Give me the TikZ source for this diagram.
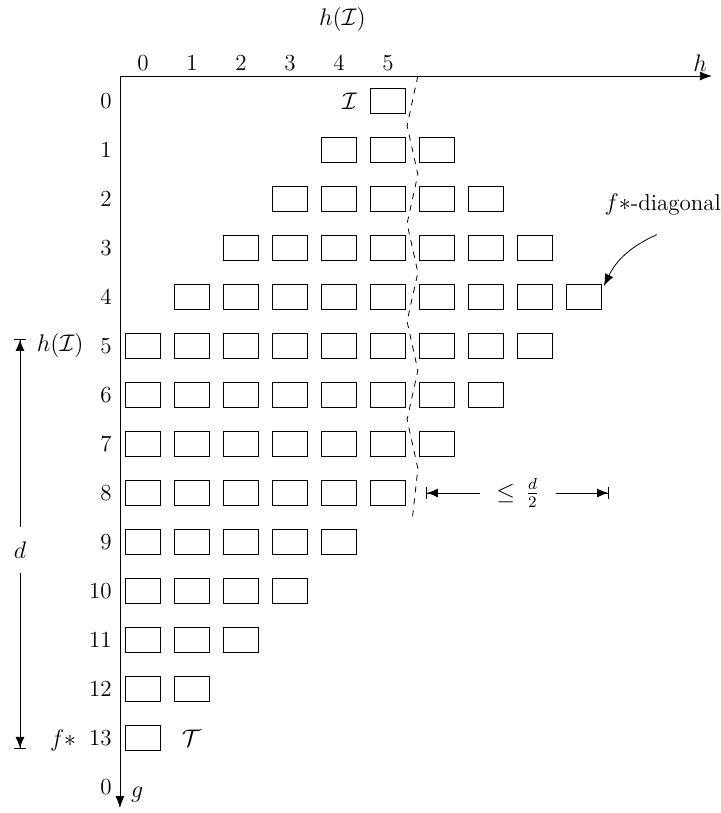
\documentclass[tikz,border=0pt]{standalone}
\usepackage{amsmath,amssymb}
\usepackage{tikz}
\usetikzlibrary{positioning, arrows.meta}
\tikzset{
  cellbox/.style   = {draw, minimum width=17.5pt, minimum height=12.5pt,
                      inner sep=0pt},
  axisarrow/.style = {-{Latex[length=6pt,width=4.5pt]}},
  dimarrow/.style  = {-{Latex[length=5.5pt,width=4.5pt,sep=0pt]Bar[width=6pt,sep=0pt]}},
  fdarrow/.style   = {-{Latex[length=6pt,width=4.5pt]}},
  rowlbl/.style    = {anchor=east, inner sep=1pt},
  collbl/.style    = {inner sep=1pt}
}

\begin{document}
\begin{tikzpicture}[x=24.5pt, y=-24.5pt, font=\fontsize{11.5}{14}\selectfont]
  \useasboundingbox (-2.918,-2.061) rectangle (11.796,14.531);

  % axes
  \coordinate (o)    at (-0.47,-0.51);
  \coordinate (hend) at (11.61,-0.51);
  \coordinate (gend) at (-0.47,14.43);
  \draw[axisarrow] (o) -- (hend);
  \draw[axisarrow] (o) -- (gend);
  \node[collbl] (hlbl) at (11.37,-0.78) {$h$};
  \node[collbl] (glbl) at (-0.12,14.16) {$g$};
  \node (htop) at (4.07,-1.67) {$h(\mathcal{I})$};

  \foreach \c in {0,...,5}
    \node[collbl] (col-\c) at (\c,-0.78) {\c};
  \foreach \r in {0,...,13}
    \node[rowlbl] (row-\r) at (-0.59,\r) {\r};
  \node[rowlbl] (row-end) at (-0.59,14) {0};

  % cells
  \foreach \r in {0,...,4} {
    \pgfmathtruncatemacro\lo{5-\r}
    \pgfmathtruncatemacro\hi{5+\r}
    \foreach \c in {\lo,...,\hi}
      \node[cellbox] (c-\r-\c) at (\c,\r) {};
  }
  \foreach \r in {5,...,13} {
    \pgfmathtruncatemacro\hi{13-\r}
    \foreach \c in {0,...,\hi}
      \node[cellbox] (c-\r-\c) at (\c,\r) {};
  }
  \node[left=3pt of c-0-5]  (ilbl) {$\mathcal{I}$};
  \node[right=7pt of c-13-0] (tlbl) {$\mathcal{T}$};

  % h(I) cut
  \draw[dashed] (5.61,-0.51) -- (5.39,0.5) -- (5.61,1.5) -- (5.39,2.5)
    -- (5.61,3.5) -- (5.39,4.5) -- (5.61,5.5) -- (5.39,6.5) -- (5.61,7.5)
    -- (5.5,8.5);

  % d/2 bound
  \coordinate (hl) at (5.78,8);
  \coordinate (hr) at (9.51,8);
  \node[inner xsep=8pt] (half) at (7.65,8) {$\leq\,\frac{d}{2}$};
  \draw[dimarrow] (half.west) -- (hl);
  \draw[dimarrow] (half.east) -- (hr);

  % d span
  \coordinate (dt) at (-2.51,4.86);
  \coordinate (db) at (-2.51,13.22);
  \node[inner ysep=7pt] (dlbl) at (-2.51,9.16) {$d$};
  \draw[dimarrow] (dlbl.north) -- (dt);
  \draw[dimarrow] (dlbl.south) -- (db);
  \node (hI) at (-1.69,5) {$h(\mathcal{I})$};
  \node (fs) at (-1.63,13.05) {$f*$};

  \node (diag) at (10.61,2.12) {$f*$-diagonal};
  \draw[fdarrow] ([xshift=-3pt,yshift=-6pt]diag.south) to[bend right=20]
        ([shift={(1pt,-1pt)}]c-4-9.north east);
\end{tikzpicture}
\end{document}
